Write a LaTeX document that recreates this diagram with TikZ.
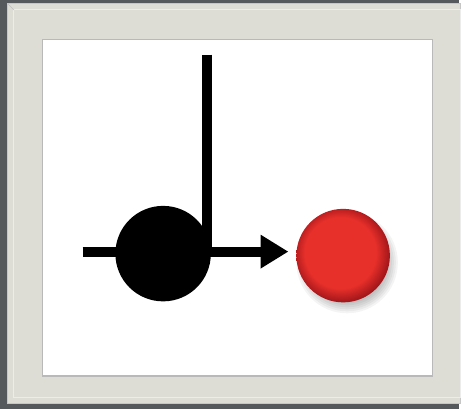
\documentclass[tikz,border=0pt]{standalone}
\usepackage{tikz}
\usetikzlibrary{arrows.meta,calc,positioning}

\definecolor{framedark}{HTML}{56595C}
\definecolor{framelight}{HTML}{DDDDD6}
\definecolor{ballred}{HTML}{E8302A}
\definecolor{ballrim}{HTML}{A3161A}
\pgfdeclareradialshading{redball}{\pgfpoint{-2.5bp}{2.5bp}}{color(0bp)=(ballred); color(19bp)=(ballred); color(26bp)=(ballrim); color(50bp)=(ballrim)}

\begin{document}
\begin{tikzpicture}[
    x=1pt,
    y=-1pt,
    every node/.style={inner sep=0pt},
    wire/.style={line width=10pt, black},
    blob/.style={circle, fill=black, minimum size=96pt},
    ball/.style={circle, shading=redball, minimum size=94pt}
]


% Frame
\fill[framedark] (0,0) rectangle (461,411);
\fill[framelight, draw=gray!45, line width=1pt] (8,4) rectangle (463,406);
\draw[white!85!gray, line width=1pt] (14,10) rectangle (463,400);
\draw[gray!50, line width=0.6pt] (8,4) -- (14,10);
\fill[white, draw=gray!55, line width=1.2pt] (43,40) rectangle (435,378);


% Points
\coordinate (in) at (83,253);
\coordinate (tip) at (290,253);
\coordinate (top) at (208,55);
\coordinate (ballc) at (345,257);


% Shadow of the ball
\foreach \r in {51,49,...,41}
    \fill[black, opacity=0.045] ($(ballc)+(4,7)$) circle (\r);


% Circles
\node[blob] (blob) at (164,255) {};
\node[ball] (ball) at (ballc) {};


% Connectors
\draw[wire] (top) -- (top |- blob.center);
\draw[wire, -{Triangle[length=28pt, width=32pt]}] (in) -- (tip);


\end{tikzpicture}
\end{document}
